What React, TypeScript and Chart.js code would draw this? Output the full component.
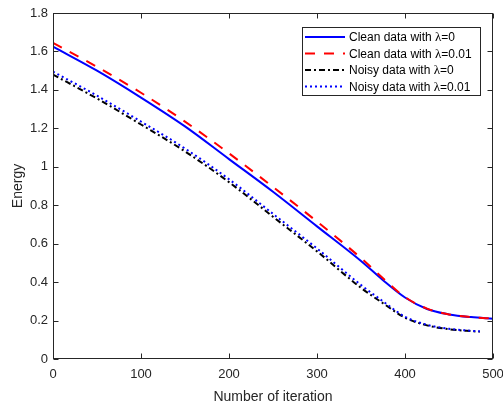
import React, { useEffect, useRef } from "react";
import { Chart, registerables } from "chart.js";
Chart.register(...registerables);

const cleanIterations = [0, 50, 100, 150, 200, 250, 300, 350, 375, 400, 425, 450, 475, 500];
const cleanLambda0 = [1.625, 1.5, 1.36, 1.21, 1.04, 0.87, 0.69, 0.51, 0.41, 0.32, 0.26, 0.232, 0.218, 0.21];
const cleanLambda001 = [1.645, 1.52, 1.385, 1.235, 1.07, 0.895, 0.715, 0.525, 0.42, 0.322, 0.262, 0.232, 0.218, 0.21];
const noisyIterations = [0, 50, 100, 150, 200, 250, 300, 350, 375, 400, 425, 450, 475, 485];
const noisyLambda0 = [1.48, 1.355, 1.22, 1.08, 0.92, 0.74, 0.56, 0.37, 0.29, 0.215, 0.175, 0.155, 0.145, 0.142];
const noisyLambda001 = [1.495, 1.37, 1.235, 1.095, 0.935, 0.755, 0.575, 0.385, 0.3, 0.22, 0.178, 0.157, 0.147, 0.144];

const xTicks = [0, 100, 200, 300, 400, 500];
const yTicks = [0, 0.2, 0.4, 0.6, 0.8, 1, 1.2, 1.4, 1.6, 1.8];

const seriesNames = ["Clean data with ", "Clean data with ", "Noisy data with ", "Noisy data with "];
const lambdaValues = ["=0", "=0.01", "=0", "=0.01"];

const SANS = '"Liberation Sans", Arial, Helvetica, sans-serif';
const SERIF = '"Liberation Serif", "Times New Roman", serif';
const AXIS = "#262626";

const toPoints = (xs: number[], ys: number[]) => xs.map((x, i) => ({ x, y: ys[i] }));

const styles = [
  { color: "#0000ff", dash: [] as number[] },
  { color: "#ff0000", dash: [10, 9] },
  { color: "#000000", dash: [6, 3, 2, 3] },
  { color: "#0000ff", dash: [2, 3] },
];

const framePlugin = {
  id: "frame",
  afterDraw(chart: any) {
    const { ctx, chartArea: a, scales } = chart;
    const xs = scales.x;
    const ys = scales.y;
    ctx.save();
    ctx.strokeStyle = AXIS;
    ctx.lineWidth = 1;
    ctx.setLineDash([]);
    const L = Math.round(a.left) + 0.5;
    const R = Math.round(a.right) - 0.5;
    const T = Math.round(a.top) + 0.5;
    const B = Math.round(a.bottom) - 0.5;
    ctx.strokeRect(L, T, R - L, B - T);
    const tl = 5;
    ctx.beginPath();
    xTicks.forEach((v) => {
      const p = Math.round(xs.getPixelForValue(v)) + 0.5;
      ctx.moveTo(p, B);
      ctx.lineTo(p, B - tl);
      ctx.moveTo(p, T);
      ctx.lineTo(p, T + tl);
    });
    yTicks.forEach((v) => {
      const p = Math.round(ys.getPixelForValue(v)) + 0.5;
      ctx.moveTo(L, p);
      ctx.lineTo(L + tl, p);
      ctx.moveTo(R, p);
      ctx.lineTo(R - tl, p);
    });
    ctx.stroke();

    // legend
    const bx = 302.5, by = 27.5, bw = 178, bh = 68;
    ctx.fillStyle = "#ffffff";
    ctx.fillRect(bx, by, bw, bh);
    ctx.strokeStyle = AXIS;
    ctx.strokeRect(bx, by, bw, bh);
    const rowY0 = 37;
    const rowStep = 16.5;
    seriesNames.forEach((name, i) => {
      const yy = rowY0 + i * rowStep;
      const st = styles[i];
      ctx.save();
      ctx.strokeStyle = st.color;
      ctx.lineWidth = 2;
      ctx.setLineDash(st.dash);
      ctx.beginPath();
      ctx.moveTo(305, yy);
      ctx.lineTo(345, yy);
      ctx.stroke();
      ctx.restore();
      ctx.fillStyle = "#000000";
      ctx.textBaseline = "middle";
      ctx.textAlign = "left";
      let tx = 349;
      ctx.font = `12px ${SANS}`;
      ctx.fillText(name, tx, yy + 1);
      tx += ctx.measureText(name).width;
      ctx.font = `13px ${SERIF}`;
      ctx.fillText("λ", tx, yy + 1);
      tx += ctx.measureText("λ").width;
      ctx.font = `12px ${SANS}`;
      ctx.fillText(lambdaValues[i], tx, yy + 1);
    });
    ctx.restore();
  },
};

export default function App() {
  const ref = useRef<HTMLCanvasElement | null>(null);
  useEffect(() => {
    if (!ref.current) return;
    const datasets = [
      { data: toPoints(cleanIterations, cleanLambda0), order: 4 },
      { data: toPoints(cleanIterations, cleanLambda001), order: 3 },
      { data: toPoints(noisyIterations, noisyLambda0), order: 2 },
      { data: toPoints(noisyIterations, noisyLambda001), order: 1 },
    ].map((d, i) => ({
      label: seriesNames[i] + "λ" + lambdaValues[i],
      data: d.data,
      order: d.order,
      borderColor: styles[i].color,
      backgroundColor: styles[i].color,
      borderDash: styles[i].dash,
      borderWidth: 2,
      pointRadius: 0,
      fill: false,
      cubicInterpolationMode: "monotone" as const,
    }));
    const chart = new Chart(ref.current, {
      type: "line",
      data: { datasets },
      options: {
        animation: false,
        responsive: false,
        maintainAspectRatio: false,
        devicePixelRatio: 1,
        layout: { padding: { top: 13, right: 10, left: 0, bottom: 0 } },
        plugins: { legend: { display: false }, tooltip: { enabled: false } },
        scales: {
          x: {
            type: "linear",
            min: 0,
            max: 500,
            afterBuildTicks: (s: any) => {
              s.ticks = xTicks.map((v) => ({ value: v }));
            },
            afterFit: (s: any) => {
              s.height = 45;
              s.paddingLeft = 0;
              s.paddingRight = 0;
            },
            grid: { display: false, drawTicks: false },
            border: { display: false },
            ticks: {
              color: AXIS,
              font: { family: SANS, size: 13 },
              padding: 8,
              maxRotation: 0,
              callback: (v: any) => String(v),
            },
            title: {
              display: true,
              text: "Number of iteration",
              color: AXIS,
              font: { family: SANS, size: 14 },
              padding: { top: 0, bottom: -2 },
            },
          },
          y: {
            type: "linear",
            min: 0,
            max: 1.8,
            afterBuildTicks: (s: any) => {
              s.ticks = yTicks.map((v) => ({ value: v }));
            },
            afterFit: (s: any) => {
              s.width = 53;
              s.paddingTop = 0;
              s.paddingBottom = 0;
            },
            grid: { display: false, drawTicks: false },
            border: { display: false },
            ticks: {
              color: AXIS,
              font: { family: SANS, size: 13 },
              padding: 5,
              callback: (v: any) => String(Number(Number(v).toFixed(1))),
            },
            title: {
              display: true,
              text: "Energy",
              color: AXIS,
              font: { family: SANS, size: 14 },
              padding: { top: 10, bottom: 0 },
            },
          },
        },
      },
      plugins: [framePlugin],
    });
    return () => chart.destroy();
  }, []);
  return (
    <div style={{ position: "absolute", left: 0, top: 0, width: 503, height: 404, background: "#fff" }}>
      <canvas ref={ref} width={503} height={404} />
    </div>
  );
}
